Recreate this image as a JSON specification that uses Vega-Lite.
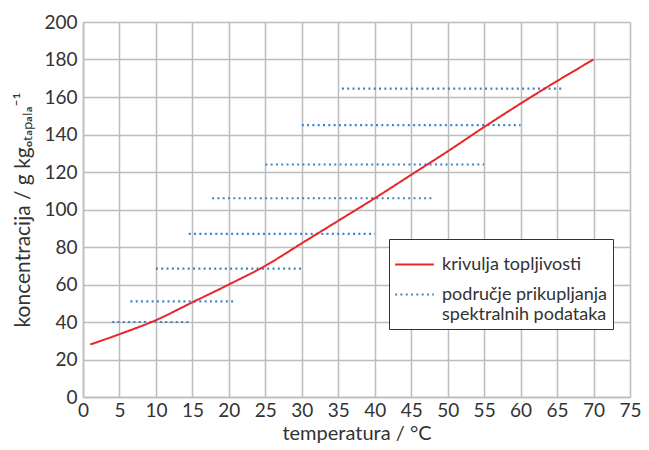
{
  "$schema": "https://vega.github.io/schema/vega-lite/v6.json",
  "width": 547,
  "height": 375,
  "autosize": {"type": "none"},
  "padding": {"left": 83, "top": 22, "right": 19, "bottom": 53},
  "background": "white",
  "config": {"view": {"stroke": null}, "font": "Lato"},
  "datasets": {
    "curve": [
      {"series": "krivulja topljivosti", "t": 1, "c": 28},
      {"series": "krivulja topljivosti", "t": 5, "c": 33.5},
      {"series": "krivulja topljivosti", "t": 10, "c": 41},
      {"series": "krivulja topljivosti", "t": 15, "c": 50.5},
      {"series": "krivulja topljivosti", "t": 20, "c": 60},
      {"series": "krivulja topljivosti", "t": 25, "c": 70},
      {"series": "krivulja topljivosti", "t": 30, "c": 82},
      {"series": "krivulja topljivosti", "t": 35, "c": 94},
      {"series": "krivulja topljivosti", "t": 40, "c": 106},
      {"series": "krivulja topljivosti", "t": 45, "c": 118.5},
      {"series": "krivulja topljivosti", "t": 50, "c": 131},
      {"series": "krivulja topljivosti", "t": 55, "c": 144},
      {"series": "krivulja topljivosti", "t": 60, "c": 156.5},
      {"series": "krivulja topljivosti", "t": 65, "c": 168.5},
      {"series": "krivulja topljivosti", "t": 70, "c": 180}
    ],
    "ranges": [
      {"series": "područje prikupljanja|spektralnih podataka", "t": 4, "t2": 14.5, "c": 40},
      {"series": "područje prikupljanja|spektralnih podataka", "t": 6.5, "t2": 21, "c": 51},
      {"series": "područje prikupljanja|spektralnih podataka", "t": 10, "t2": 30, "c": 68.5},
      {"series": "područje prikupljanja|spektralnih podataka", "t": 14.5, "t2": 40, "c": 87},
      {"series": "područje prikupljanja|spektralnih podataka", "t": 17.7, "t2": 48, "c": 106},
      {"series": "područje prikupljanja|spektralnih podataka", "t": 25, "t2": 55, "c": 124},
      {"series": "područje prikupljanja|spektralnih podataka", "t": 30, "t2": 60, "c": 145},
      {"series": "područje prikupljanja|spektralnih podataka", "t": 35.5, "t2": 66, "c": 164.5}
    ]
  },
  "encoding": {
    "x": {
      "field": "t",
      "type": "quantitative",
      "scale": {"domain": [0, 75], "nice": false, "zero": false},
      "axis": {
        "values": [0, 5, 10, 15, 20, 25, 30, 35, 40, 45, 50, 55, 60, 65, 70, 75],
        "title": "temperatura / °C",
        "grid": true,
        "gridColor": "#bdbdbd",
        "gridWidth": 1.5,
        "domainColor": "#bdbdbd",
        "domainWidth": 1.5,
        "ticks": false,
        "labelOverlap": false,
        "labelFlush": false,
        "labelFont": "Lato",
        "labelFontSize": 19,
        "labelColor": "#333333",
        "labelPadding": 4,
        "titleFont": "Lato",
        "titleFontSize": 20,
        "titleFontWeight": "normal",
        "titleColor": "#333333",
        "titlePadding": 3
      }
    },
    "y": {
      "field": "c",
      "type": "quantitative",
      "scale": {"domain": [0, 200], "nice": false},
      "axis": {
        "values": [0, 20, 40, 60, 80, 100, 120, 140, 160, 180, 200],
        "title": "koncentracija / g kgₒₜₐₚₐₗₐ⁻¹",
        "grid": true,
        "gridColor": "#bdbdbd",
        "gridWidth": 1.5,
        "domainColor": "#bdbdbd",
        "domainWidth": 1.5,
        "ticks": false,
        "labelOverlap": false,
        "labelFlush": false,
        "labelFont": "Lato",
        "labelFontSize": 19,
        "labelColor": "#333333",
        "labelPadding": 6,
        "titleFont": "Lato",
        "titleFontSize": 21,
        "titleFontWeight": "normal",
        "titleColor": "#333333",
        "titlePadding": 10
      }
    },
    "color": {
      "field": "series",
      "type": "nominal",
      "scale": {
        "domain": ["krivulja topljivosti", "područje prikupljanja|spektralnih podataka"],
        "range": ["#e8262a", "#3a86c8"]
      },
      "legend": {
        "title": null,
        "orient": "none",
        "legendX": 306,
        "legendY": 217,
        "fillColor": "white",
        "strokeColor": "#333333",
        "padding": 5,
        "labelFont": "Lato",
        "labelFontSize": 18,
        "labelColor": "#333333",
        "symbolType": "stroke",
        "symbolSize": 1500,
        "symbolStrokeWidth": 2,
        "labelExpr": "split(datum.label, '|')",
        "labelLimit": 300,
        "labelOffset": 7,
        "rowPadding": -9
      }
    },
    "strokeDash": {
      "field": "series",
      "type": "nominal",
      "scale": {
        "domain": ["krivulja topljivosti", "područje prikupljanja|spektralnih podataka"],
        "range": [[1, 0], [2, 3.3]]
      },
      "legend": {
        "title": null,
        "orient": "none",
        "legendX": 306,
        "legendY": 217,
        "fillColor": "white",
        "strokeColor": "#333333",
        "padding": 5,
        "labelFont": "Lato",
        "labelFontSize": 18,
        "labelColor": "#333333",
        "symbolType": "stroke",
        "symbolSize": 1500,
        "symbolStrokeWidth": 2,
        "labelExpr": "split(datum.label, '|')",
        "labelLimit": 300,
        "labelOffset": 7,
        "rowPadding": -9
      }
    }
  },
  "layer": [
    {
      "data": {"name": "ranges"},
      "mark": {"type": "rule", "strokeWidth": 2.2},
      "encoding": {"x2": {"field": "t2"}}
    },
    {
      "data": {"name": "curve"},
      "mark": {"type": "line", "strokeWidth": 2, "interpolate": "monotone"}
    }
  ]
}
